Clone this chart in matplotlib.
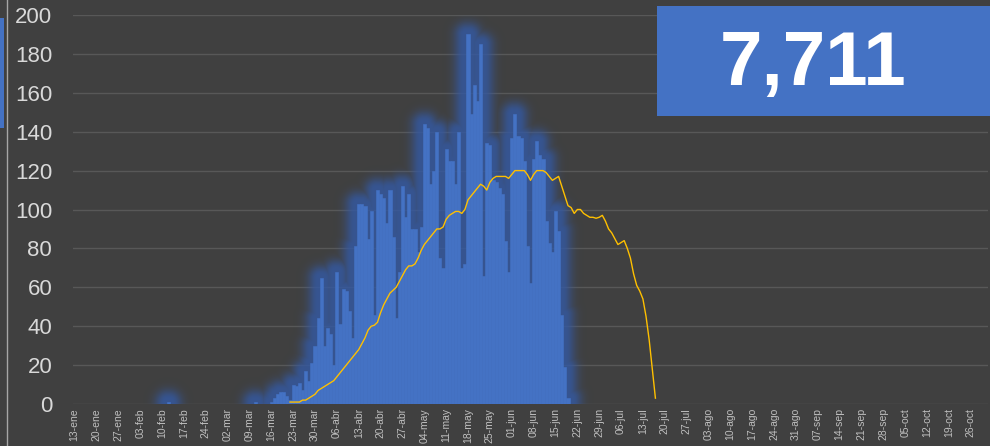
import numpy as np
import pandas as pd
import matplotlib
matplotlib.use("Agg")
import matplotlib.pyplot as plt
import matplotlib.dates as mdates
from matplotlib.patches import Rectangle
from matplotlib.lines import Line2D
from matplotlib.colors import to_rgb

plt.rcParams['font.family'] = ['Liberation Sans', 'DejaVu Sans']

# ---------------- data ----------------
early_dates = ["2020-02-12", "2020-03-11"]
early_deaths = [1, 1]

bar_start = "2020-03-16"
daily_deaths = [
    1, 3, 5, 6, 6, 4, 2,
    10, 9, 11, 7, 17, 12, 21, 30, 44, 65,
    30, 39, 36, 20, 68, 41, 59, 58, 48, 34,
    81, 103, 103, 102, 85, 99, 46, 110, 108, 106,
    93, 110, 86, 44, 68, 112, 96, 108, 90, 90,
    78, 91, 144, 142, 113, 120, 140, 75, 70, 131,
    125, 125, 113, 140, 70, 72, 190, 149, 164, 156,
    185, 66, 134, 133, 115, 114, 111, 108, 84, 68,
    137, 149, 138, 137, 125, 81, 62, 126, 135, 128,
    126, 94, 83, 78, 99, 89, 46, 19, 3,
]

line_start = "2020-03-22"
trend_values = [
    1, 1, 1, 1, 2, 2, 3, 4, 5, 7,
    8, 9, 10, 11, 12, 14, 16, 18, 20, 22,
    24, 26, 28, 31, 34, 38, 40, 40.5, 42, 47,
    51, 54, 57, 58.5, 60, 63, 66, 69, 71, 71,
    72, 75, 79, 82, 84, 86, 88, 90, 90, 91,
    95, 97, 98, 99, 99, 98, 100, 105, 107, 109,
    111, 113, 112, 110, 114, 116, 117, 117, 117, 117,
    116, 118, 120, 120, 120, 120, 118, 115, 118, 120,
    120, 120, 119, 117, 115, 116, 117, 112, 107, 102,
    101, 98, 100, 100, 98, 97, 96, 96, 95.5, 96,
    97, 94, 90, 88, 85, 82, 83, 84, 80, 75,
    67, 61, 58, 54, 45, 33, 18, 3,
]

tick_start = "2020-01-13"
tick_labels = [
    "13-ene", "20-ene", "27-ene", "03-feb", "10-feb", "17-feb", "24-feb",
    "02-mar", "09-mar", "16-mar", "23-mar", "30-mar", "06-abr", "13-abr",
    "20-abr", "27-abr", "04-may", "11-may", "18-may", "25-may", "01-jun",
    "08-jun", "15-jun", "22-jun", "29-jun", "06-jul", "13-jul", "20-jul",
    "27-jul", "03-ago", "10-ago", "17-ago", "24-ago", "31-ago", "07-sep",
    "14-sep", "21-sep", "28-sep", "05-oct", "12-oct", "19-oct", "26-oct",
]
y_ticks = [0, 20, 40, 60, 80, 100, 120, 140, 160, 180, 200]
total_label = "7,711"

# ---------------- colours ----------------
BG = "#404040"
BAR = "#4472C4"
GLOW = "#3459A2"
LINE = "#FFC000"
GRID = "#585858"

# ---------------- series ----------------
bar_dates = pd.date_range(bar_start, periods=len(daily_deaths), freq="D")
s_bars = pd.Series(daily_deaths, index=bar_dates, dtype=float)
s_early = pd.Series(early_deaths, index=pd.to_datetime(early_dates), dtype=float)
s_all = pd.concat([s_early, s_bars]).sort_index()

line_dates = pd.date_range(line_start, periods=len(trend_values), freq="D")
tick_dates = pd.date_range(tick_start, periods=len(tick_labels), freq="7D")

W_PX, H_PX = 990, 446
fig = plt.figure(figsize=(W_PX / 100, H_PX / 100), dpi=100, facecolor=BG)
ax_l, ax_b, ax_w, ax_h = 73, 42, 915, 389
ax = fig.add_axes([ax_l / W_PX, ax_b / H_PX, ax_w / W_PX, ax_h / H_PX])
ax.set_facecolor(BG)

x0 = mdates.date2num(pd.Timestamp(tick_start)) - 0.5
x1 = x0 + 293
ymax = 200

# ---------------- glow (derived from the bar data) ----------------
ndays = int(round(x1 - x0))
full = s_all.reindex(pd.date_range(tick_start, periods=ndays, freq="D")).fillna(0).values
cols = np.arange(ax_w)
xcent = (cols + 0.5) * (x1 - x0) / ax_w
day_idx = np.clip(np.floor(xcent).astype(int), 0, ndays - 1)
hcol = full[day_idx] * ax_h / ymax
valid = full[day_idx] > 0
R = 26
yc = (np.arange(ax_h) + 0.5)[:, None]
dist = np.full((ax_h, ax_w), np.inf)
for dk in range(-R, R + 1):
    idx = cols + dk
    ok = (idx >= 0) & (idx < ax_w)
    idc = np.clip(idx, 0, ax_w - 1)
    hk = np.where(ok & valid[idc], hcol[idc], np.nan)
    dy = np.maximum(0, yc - hk[None, :])
    d = np.sqrt(dk * dk + dy * dy)
    d = np.where(np.isnan(d), np.inf, d)
    dist = np.minimum(dist, d)
f = np.exp(-(np.maximum(0, dist - 3.0) / 9.5) ** 2)
rgba = np.zeros((ax_h, ax_w, 4))
rgba[..., :3] = to_rgb(GLOW)
rgba[..., 3] = 0.82 * f
ax.imshow(rgba, extent=(x0, x1, 0, ymax), origin="lower", aspect="auto",
          interpolation="nearest", zorder=1.5)

# ---------------- bars & line ----------------
ax.bar(s_all.index, s_all.values, width=1.0, color=BAR, edgecolor=BAR,
       linewidth=0.4, zorder=2)
ax.plot(line_dates, trend_values, color=LINE, lw=1.0, zorder=3)

ax.set_xlim(x0, x1)
ax.set_ylim(0, ymax)
ax.set_yticks(y_ticks)
ax.yaxis.grid(True, color=GRID, lw=1.0)
ax.set_axisbelow(True)
ax.set_xticks(mdates.date2num(tick_dates))
ax.set_xticklabels(tick_labels, rotation=90, fontsize=7.5, color="#BFBFBF")
ax.tick_params(axis="x", length=0, pad=3)
ax.tick_params(axis="y", length=0, pad=15, labelsize=16, labelcolor="#D9D9D9")
for sp in ax.spines.values():
    sp.set_visible(False)

# ---------------- total box ----------------
fig.add_artist(Rectangle((657 / W_PX, (H_PX - 116) / H_PX), 333 / W_PX, 110 / H_PX,
                         transform=fig.transFigure, facecolor=BAR,
                         edgecolor="none", zorder=5))
fig.text(813 / W_PX, (H_PX - 85) / H_PX, total_label, ha="center", va="baseline",
         fontsize=55, fontweight="bold", color="white", zorder=6)

# ---------------- left edge remnants of neighbouring panel ----------------
fig.add_artist(Rectangle((0, (H_PX - 128) / H_PX), 4 / W_PX, 110 / H_PX,
                         transform=fig.transFigure, facecolor=BAR,
                         edgecolor="none", zorder=5))
fig.add_artist(Line2D([6.5 / W_PX, 6.5 / W_PX], [0, 1], transform=fig.transFigure,
                      color="#A6A6A6", lw=1.0, zorder=5))

fig.savefig("out.png", dpi=100, facecolor=BG)
